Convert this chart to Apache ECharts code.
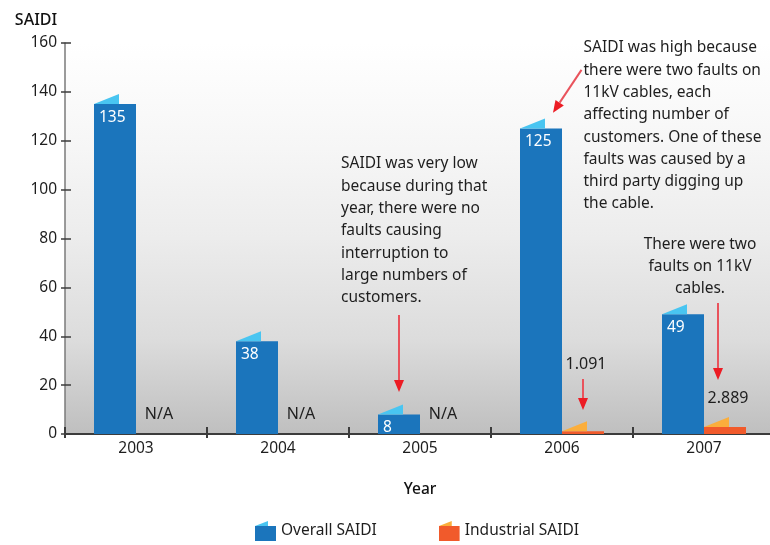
<!DOCTYPE html>
<html>
<head>
<meta charset="utf-8">
<script src="https://cdn.jsdelivr.net/npm/echarts@6/dist/echarts.min.js"></script>
<style>
  html, body { margin: 0; padding: 0; background: #ffffff; }
  #chart { width: 770px; height: 545px; }
</style>
</head>
<body>
<div id="chart"></div>
<script>
// ---- data ----
const years = ['2003', '2004', '2005', '2006', '2007'];
const overallSaidi = [135, 38, 8, 125, 49];
const industrialSaidi = [null, null, null, 1.091, 2.889];
const yAxisRange = { min: 0, max: 160, interval: 20 };

// ---- annotation texts ----
const lowNote = [
  'SAIDI was very low',
  'because during that',
  'year, there were no',
  'faults causing',
  'interruption to',
  'large numbers of',
  'customers.'
];
const highNote = [
  'SAIDI was high because',
  'there were two faults on',
  '11kV cables, each',
  'affecting number of',
  'customers. One of these',
  'faults was caused by a',
  'third party digging up',
  'the cable.'
];
const cableNote = ['There were two', 'faults on 11kV', 'cables.'];

// ---- styling ----
const FONT = '"Noto Sans", "DejaVu Sans", sans-serif';
const BAR_W = 42;
const BLUE = '#1b75bc', BLUE_FOLD = '#49c5f1';
const ORANGE = '#f15a2b', ORANGE_FOLD = '#fbae3c';
const TEXT = '#1e1e1e';
const LINE_H = 22.3;

// side 0 = overall bar (left of the category centre), side 1 = industrial bar (right)
function sideShift(side) { return side === 0 ? -BAR_W / 2 : BAR_W / 2; }

// note blocks anchored in data space (category, value) plus a pixel nudge
const notes = [
  { cat: 2, side: 0, dx: -58, y: 110.5, align: 'left', lines: lowNote },
  { cat: 3, side: 0, dx: 42.5, y: 158.0, align: 'left', lines: highNote },
  { cat: 4, side: 1, dx: -25, y: 77.7, align: 'center', lines: cableNote }
];
const arrows = [
  { cat: 2, side: 0, from: [0, 48.7], to: [0, 17.2] },
  { cat: 3, side: 0, from: [40.5, 149], to: [12, 131.5] },
  { cat: 3, side: 1, from: [0, 22.5], to: [0, 9.8] },
  { cat: 4, side: 1, from: [-7, 53.6], to: [-7, 22.1] }
];
// heights (in axis units) where the industrial value / N/A labels sit
const industrialLabelY = [8.2, 8.2, 8.2, 28.4, 14.7];

function legendIcon(main, fold) {
  const svg = '<svg xmlns="http://www.w3.org/2000/svg" width="21" height="20" viewBox="0 0 21 20">' +
    '<polygon points="0,5 13,0 13,5" fill="' + fold + '"/>' +
    '<rect x="0" y="5" width="21" height="15" fill="' + main + '"/></svg>';
  return 'image://data:image/svg+xml;charset=utf-8,' + encodeURIComponent(svg);
}

// fold decorations on top of each bar
const foldData = [];
overallSaidi.forEach((v, i) => { if (v != null) foldData.push([i, v, 0]); });
industrialSaidi.forEach((v, i) => { if (v != null) foldData.push([i, v, 1]); });

function renderFold(params, api) {
  const side = api.value(2);
  const p = api.coord([api.value(0), api.value(1)]);
  const left = side === 0 ? p[0] - BAR_W : p[0];
  return {
    type: 'polygon',
    shape: { points: [[left, p[1]], [left + 25, p[1] - 10], [left + 25, p[1]]] },
    style: { fill: side === 0 ? BLUE_FOLD : ORANGE_FOLD }
  };
}

function arrowShapes(x1, y1, x2, y2) {
  const ang = Math.atan2(y2 - y1, x2 - x1);
  const headLen = 12, headHalf = 5;
  const bx = x2 - Math.cos(ang) * headLen, by = y2 - Math.sin(ang) * headLen;
  const nx = -Math.sin(ang) * headHalf, ny = Math.cos(ang) * headHalf;
  return [
    { type: 'line', shape: { x1: x1, y1: y1, x2: bx, y2: by },
      style: { stroke: '#e9535c', lineWidth: 2 } },
    { type: 'polygon', shape: { points: [[x2, y2], [bx + nx, by + ny], [bx - nx, by - ny]] },
      style: { fill: '#ec1c24' } }
  ];
}

function renderAnnotations(params, api) {
  if (params.dataIndex !== 0) return null;
  const children = [];
  const at = (cat, side, dx, val) => {
    const p = api.coord([cat, val]);
    return [p[0] + sideShift(side) + dx, p[1]];
  };
  notes.forEach(n => {
    const base = at(n.cat, n.side, n.dx, n.y);
    n.lines.forEach((line, k) => {
      children.push({
        type: 'text',
        x: base[0], y: base[1] + k * LINE_H,
        style: { text: line, fill: TEXT, fontSize: 15.5, fontFamily: FONT,
                 align: n.align, verticalAlign: 'middle' }
      });
    });
  });
  arrows.forEach(a => {
    const s = at(a.cat, a.side, a.from[0], a.from[1]);
    const e = at(a.cat, a.side, a.to[0], a.to[1]);
    arrowShapes(s[0], s[1], e[0], e[1]).forEach(c => children.push(c));
  });
  industrialSaidi.forEach((v, i) => {
    const p = at(i, 1, v == null ? 2 : 3, industrialLabelY[i]);
    children.push({
      type: 'text', x: p[0], y: p[1],
      style: { text: v == null ? 'N/A' : v.toFixed(3), fill: TEXT, fontSize: 16,
               fontFamily: FONT, align: 'center', verticalAlign: 'middle' }
    });
  });
  return { type: 'group', children: children };
}

const chart = echarts.init(document.getElementById('chart'), null, { renderer: 'canvas' });

chart.setOption({
  animation: false,
  textStyle: { fontFamily: FONT },
  grid: {
    left: 65, top: 43, width: 710, height: 391,
    outerBoundsMode: 'none',
    containLabel: false,
    show: true, borderWidth: 0,
    backgroundColor: new echarts.graphic.LinearGradient(0, 0, 0, 1, [
      { offset: 0, color: '#ffffff' },
      { offset: 0.27, color: '#f6f6f6' },
      { offset: 0.5, color: '#ececec' },
      { offset: 0.76, color: '#dcdcdc' },
      { offset: 1, color: '#bfbfbf' }
    ])
  },
  legend: {
    left: 255, top: 521,
    itemWidth: 21, itemHeight: 20, itemGap: 62,
    padding: 0,
    textStyle: { fontSize: 15.5, color: TEXT, fontFamily: FONT },
    data: [
      { name: 'Overall SAIDI', icon: legendIcon(BLUE, BLUE_FOLD) },
      { name: 'Industrial SAIDI', icon: legendIcon(ORANGE, ORANGE_FOLD) }
    ]
  },
  xAxis: [
    {
      type: 'category', data: years, position: 'bottom',
      name: 'Year', nameLocation: 'middle', nameGap: 48,
      nameTextStyle: { fontSize: 15.5, fontWeight: 500, color: '#111111', fontFamily: FONT },
      axisLine: { show: true, lineStyle: { color: '#3c3c3c', width: 2 } },
      axisTick: { show: true, inside: false, length: 4, lineStyle: { color: '#3c3c3c', width: 2 } },
      axisLabel: { fontSize: 15.5, color: TEXT, margin: 7, fontFamily: FONT },
      splitLine: { show: false }
    },
    {
      // upward half of the crossing ticks on the baseline
      type: 'category', data: years, position: 'top', offset: -391,
      axisLine: { show: false },
      axisTick: { show: true, inside: false, length: 7, lineStyle: { color: '#3c3c3c', width: 2 } },
      axisLabel: { show: false },
      splitLine: { show: false }
    }
  ],
  yAxis: [
    {
      type: 'value', position: 'left',
      min: yAxisRange.min, max: yAxisRange.max, interval: yAxisRange.interval,
      name: 'SAIDI', nameLocation: 'end', nameGap: 15,
      nameTextStyle: { fontSize: 16, fontWeight: 500, color: '#111111', fontFamily: FONT,
                       align: 'center', padding: [0, 58, 0, 0] },
      axisLine: { show: true, lineStyle: { color: '#7a7a7a', width: 1.5 } },
      axisTick: { show: true, inside: false, length: 4, lineStyle: { color: '#3c3c3c', width: 1.5 } },
      axisLabel: { fontSize: 15.5, color: TEXT, margin: 8, fontFamily: FONT },
      splitLine: { show: false }
    },
    {
      // right-pointing half of the crossing ticks on the value axis
      type: 'value', position: 'right', offset: -710,
      min: yAxisRange.min, max: yAxisRange.max, interval: yAxisRange.interval,
      axisLine: { show: false },
      axisTick: { show: true, inside: false, length: 6, lineStyle: { color: '#3c3c3c', width: 1.5 } },
      axisLabel: { show: false },
      splitLine: { show: false }
    }
  ],
  series: [
    {
      name: 'Overall SAIDI', type: 'bar', data: overallSaidi,
      barWidth: BAR_W, barGap: '0%',
      itemStyle: { color: BLUE },
      label: {
        show: true, position: 'insideTopLeft', distance: 5,
        color: '#ffffff', fontSize: 15.5, fontFamily: FONT
      },
      z: 2
    },
    {
      name: 'Industrial SAIDI', type: 'bar', data: industrialSaidi,
      barWidth: BAR_W, barGap: '0%',
      itemStyle: { color: ORANGE },
      z: 2
    },
    {
      type: 'custom', name: 'folds', data: foldData,
      renderItem: renderFold, silent: true, z: 3
    },
    {
      type: 'custom', name: 'annotations', data: [[0, 0]],
      renderItem: renderAnnotations, silent: true, z: 4, clip: false
    }
  ]
});
</script>
</body>
</html>
